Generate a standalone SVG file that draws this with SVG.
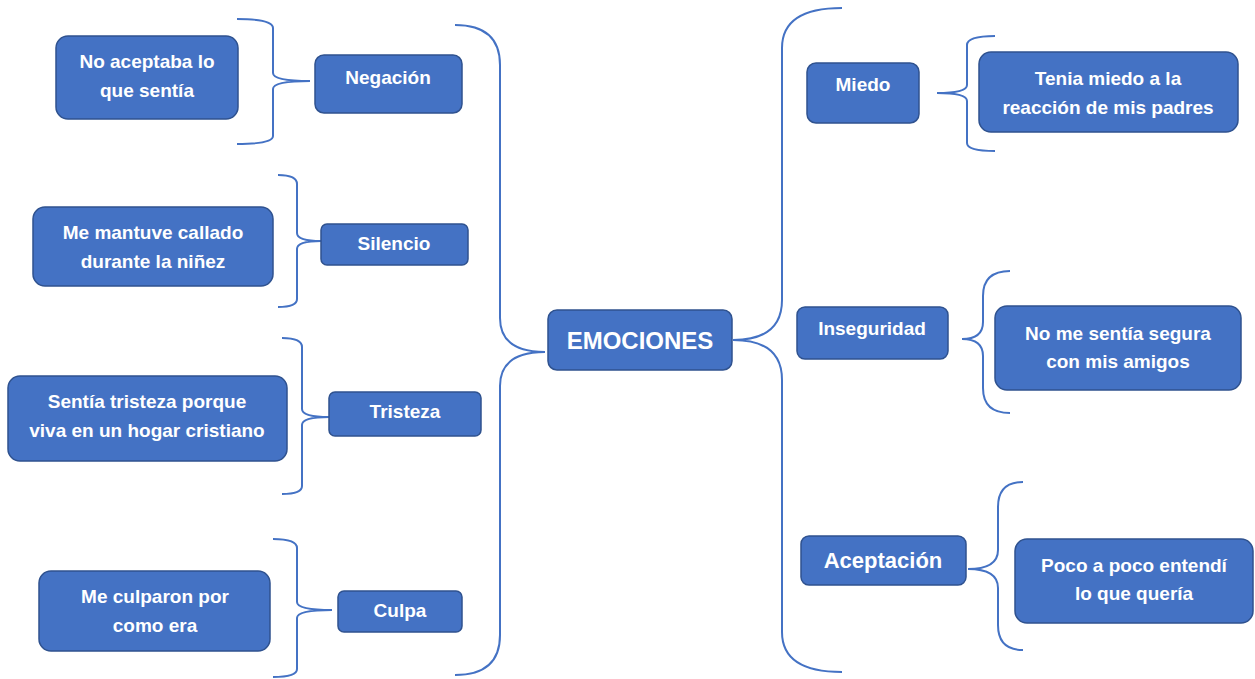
<svg xmlns="http://www.w3.org/2000/svg" width="1255" height="679" viewBox="0 0 1255 679">
<style>
.box{fill:#4472C4;stroke:#2F528F;stroke-width:1.5}
.t{fill:#fff;font-family:"Liberation Sans",Arial,sans-serif;font-weight:bold;font-size:19px;text-anchor:middle}
.c{fill:none;stroke:#4472C4;stroke-width:2}
</style>
<rect width="1255" height="679" fill="#fff"/>
<g id="connectors">
<path class="c" d="M455,25 Q500,25 500,65 L500,318 Q500,352 545,352 Q500,352 500,386 L500,635 Q500,675 455,675"/>
<path class="c" d="M842,8 Q782,8 782,48 L782,300 Q782,340 733,340 Q782,340 782,380 L782,632 Q782,672 842,672"/>
<path class="c" d="M237,19 Q273,19 273,28 L273,73 Q273,81 310,81 Q273,81 273,89 L273,136 Q273,144 237,144"/>
<path class="c" d="M278,175 Q297,175 297,184 L297,233 Q297,241 321,241 Q297,241 297,249 L297,299 Q297,307 278,307"/>
<path class="c" d="M282,338 Q302,338 302,347 L302,409 Q302,417 329,417 Q302,417 302,425 L302,486 Q302,494 282,494"/>
<path class="c" d="M273,539 Q297,539 297,548 L297,602 Q297,610 332,610 Q297,610 297,618 L297,669 Q297,677 273,677"/>
<path class="c" d="M995,36 Q967,36 967,45 L967,85 Q967,93 937,93 Q967,93 967,101 L967,143 Q967,151 995,151"/>
<path class="c" d="M1010,271 Q983,271 983,296 L983,322 Q983,339 962,339 Q983,339 983,356 L983,388 Q983,413 1010,413"/>
<path class="c" d="M1023,482 Q998,482 998,507 L998,550 Q998,569 968,569 Q998,569 998,588 L998,625 Q998,650 1023,650"/>
</g>
<g id="emociones"><rect class="box" x="548" y="310" width="184" height="60" rx="9"/><text class="t" x="640" y="349" style="font-size:24px">EMOCIONES</text></g>
<g id="negacion"><rect class="box" x="315" y="55" width="147" height="58" rx="9"/><text class="t" x="388" y="84">Negación</text></g>
<g id="negacion-desc"><rect class="box" x="56" y="36" width="182" height="83" rx="12"/><text class="t" x="147" y="68">No aceptaba lo</text><text class="t" x="147" y="97">que sentía</text></g>
<g id="silencio"><rect class="box" x="321" y="224" width="147" height="41" rx="6"/><text class="t" x="394" y="250">Silencio</text></g>
<g id="silencio-desc"><rect class="box" x="33" y="207" width="240" height="79" rx="12"/><text class="t" x="153" y="239">Me mantuve callado</text><text class="t" x="153" y="268">durante la niñez</text></g>
<g id="tristeza"><rect class="box" x="329" y="392" width="152" height="44" rx="6"/><text class="t" x="405" y="418">Tristeza</text></g>
<g id="tristeza-desc"><rect class="box" x="8" y="376" width="279" height="85" rx="12"/><text class="t" x="147" y="408">Sentía tristeza porque</text><text class="t" x="147" y="437">viva en un hogar cristiano</text></g>
<g id="culpa"><rect class="box" x="338" y="591" width="124" height="41" rx="6"/><text class="t" x="400" y="617">Culpa</text></g>
<g id="culpa-desc"><rect class="box" x="39" y="571" width="231" height="80" rx="12"/><text class="t" x="155" y="603">Me culparon por</text><text class="t" x="155" y="632">como era</text></g>
<g id="miedo"><rect class="box" x="807" y="63" width="112" height="60" rx="9"/><text class="t" x="863" y="91">Miedo</text></g>
<g id="miedo-desc"><rect class="box" x="979" y="52" width="259" height="80" rx="12"/><text class="t" x="1108" y="85">Tenia miedo a la</text><text class="t" x="1108" y="114">reacción de mis padres</text></g>
<g id="inseguridad"><rect class="box" x="797" y="307" width="151" height="52" rx="8"/><text class="t" x="872" y="335">Inseguridad</text></g>
<g id="inseguridad-desc"><rect class="box" x="995" y="306" width="246" height="84" rx="12"/><text class="t" x="1118" y="340">No me sentía segura</text><text class="t" x="1118" y="368">con mis amigos</text></g>
<g id="aceptacion"><rect class="box" x="801" y="536" width="165" height="49" rx="8"/><text class="t" x="883" y="568" style="font-size:22px">Aceptación</text></g>
<g id="aceptacion-desc"><rect class="box" x="1015" y="539" width="238" height="84" rx="12"/><text class="t" x="1134" y="572">Poco a poco entendí</text><text class="t" x="1134" y="600">lo que quería</text></g>
</svg>
